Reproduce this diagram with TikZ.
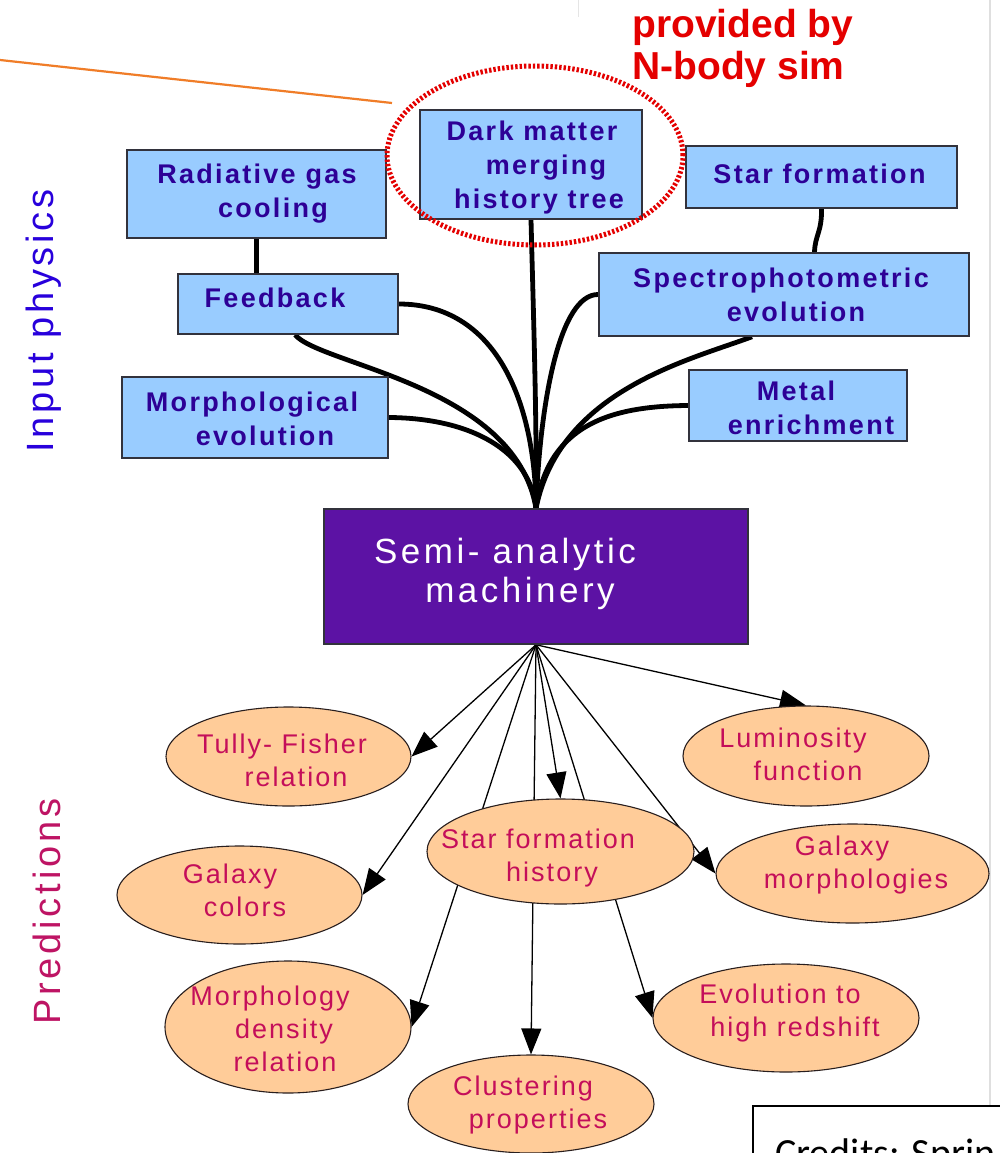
\documentclass[tikz,border=0pt]{standalone}
\usepackage{fontspec}
\setmainfont{Liberation Sans}
\newfontfamily\boxfont[LetterSpace=8.5]{Liberation Sans}
\newfontfamily\ellfont[LetterSpace=7.5]{Liberation Sans}
\newfontfamily\semifont[LetterSpace=10]{Liberation Sans}
\newfontfamily\sidefont[LetterSpace=10]{Liberation Sans}
\newfontfamily\credfont{Carlito}
\usetikzlibrary{shapes.geometric,arrows.meta,calc}
\pgfdeclarelayer{back}
\pgfsetlayers{back,main}

\definecolor{boxblue}{RGB}{153,204,255}
\definecolor{boxedge}{RGB}{50,50,60}
\definecolor{boxtext}{RGB}{45,0,150}
\definecolor{semipurple}{RGB}{92,18,164}
\definecolor{ellfill}{RGB}{255,204,153}
\definecolor{elledge}{RGB}{40,30,30}
\definecolor{elltext}{RGB}{196,14,90}
\definecolor{inputblue}{RGB}{40,0,220}
\definecolor{predcrimson}{RGB}{190,20,100}
\definecolor{simred}{RGB}{228,0,0}
\definecolor{leader}{RGB}{240,125,40}

\tikzset{
  inbox/.style={draw=boxedge, line width=1.5pt, fill=boxblue, inner sep=0pt},
  intext/.style={font=\boxfont\bfseries\fontsize{27pt}{34pt}\selectfont, text=boxtext,
    align=center, inner sep=0pt, anchor=base},
  outell/.style={ellipse, draw=elledge, line width=1.1pt, fill=ellfill, inner sep=0pt},
  outtext/.style={font=\ellfont\fontsize{27pt}{33pt}\selectfont, text=elltext,
    align=center, inner sep=0pt, anchor=base},
  feed/.style={line width=4.8pt, draw=black},
  pred/.style={line width=1.3pt, draw=black, -{Triangle[length=26pt,width=20pt]}},
}

\begin{document}
\begin{tikzpicture}[x=1pt,y=-1pt]
\useasboundingbox (0,0) rectangle (1000,1153);
\begin{pgfonlayer}{back}
\fill[white] (0,0) rectangle (1000,1153);
\end{pgfonlayer}
\clip (0,0) rectangle (1000,1153);

% page rules
\draw[gray!25, line width=2.5pt] (990,0) -- (990,1105);
\draw[gray!20, line width=1pt] (578,0) -- (578,17);

% input physics boxes
\node[inbox, minimum width=259pt, minimum height=88pt]  (rad)  at (256.5,194) {};
\node[inbox, minimum width=220pt, minimum height=60pt]  (fb)   at (288,304) {};
\node[inbox, minimum width=266pt, minimum height=81pt]  (mo)   at (255,417.5) {};
\node[inbox, minimum width=222pt, minimum height=109pt] (dm)   at (531,164.5) {};
\node[inbox, minimum width=271pt, minimum height=62pt]  (sf)   at (821.5,177) {};
\node[inbox, minimum width=370pt, minimum height=83pt]  (sp)   at (784,294.5) {};
\node[inbox, minimum width=218pt, minimum height=71pt]  (me)   at (798,405.5) {};
\node[draw=boxedge, line width=1.5pt, fill=semipurple, inner sep=0pt,
      minimum width=424pt, minimum height=135pt] (semi) at (536,576.5) {};

% labels sit on the baseline of their last line
\node[intext] (rad-t) at (265,217) {Radiative gas\hspace*{16pt}\\\hspace*{16pt}cooling};
\node[intext] (fb-t)  at (275,307) {Feedback};
\node[intext] (mo-t)  at (258.5,445) {Morphological\hspace*{13pt}\\\hspace*{13pt}evolution};
\node[intext] (dm-t)  at (539,208) {Dark matter\hspace*{14pt}\\\hspace*{14pt}merging\\history tree};
\node[intext] (sf-t)  at (819.5,183) {Star formation};
\node[intext] (sp-t)  at (788.5,321) {Spectrophotometric\hspace*{15pt}\\\hspace*{15pt}evolution};
\node[intext] (me-t)  at (803.5,434) {Metal\hspace*{15pt}\\\hspace*{15pt}enrichment};
\node[font=\semifont\fontsize{35pt}{39pt}\selectfont, text=white, align=center,
      inner sep=0pt, anchor=base] (semi-t) at (512.5,602)
      {Semi- analytic\hspace*{15pt}\\\hspace*{15pt}machinery};

% halo around the merger tree box
\node[ellipse, draw=simred, line width=5pt, dash pattern=on 2.4pt off 2pt,
      minimum width=296pt, minimum height=179pt, inner sep=0pt] (halo) at (535,155.5) {};

% leader line
\coordinate (lead-a) at (0,60);
\coordinate (lead-b) at (392,103);
\draw[leader, line width=2.2pt] (lead-a) -- (lead-b);

\node[font=\bfseries\fontsize{39pt}{42pt}\selectfont, text=simred, align=left,
      inner sep=0pt, anchor=base west] (sim) at (632,80) {provided by\\N-body sim};

% physics feeding the machinery
\begin{pgfonlayer}{back}
\draw[feed] (rad.south) -- (rad.south |- fb.north);
\draw[feed] (sf.south) .. controls (822,232) and (815,235) .. ($(sf.south |- sp.north)+(-7,0)$);
\draw[feed] (fb.east) .. controls (495,304) and (535,400) .. (semi.north);
\draw[feed] ($(fb.south)+(7,0)$) .. controls (320,365) and (515,385) .. (semi.north);
\draw[feed] (mo.east) .. controls (470,418) and (530,450) .. (semi.north);
\draw[feed] (dm.south) .. controls (533,300) and (537,420) .. (semi.north);
\draw[feed] (sp.west) .. controls (560,294) and (540,400) .. (semi.north);
\draw[feed] ($(sp.south)+(-32,0)$) .. controls (690,360) and (560,390) .. (semi.north);
\draw[feed] (me.west) .. controls (610,406) and (548,425) .. (semi.north);
\end{pgfonlayer}

% predictions
\node[outell, minimum width=245pt, minimum height=99pt]  (tf)  at (288.5,756.5) {};
\node[outell, minimum width=245pt, minimum height=98pt]  (gc)  at (239.5,895) {};
\node[outell, minimum width=267pt, minimum height=105pt] (sfh) at (560.5,851.5) {};
\node[outell, minimum width=246pt, minimum height=100pt] (lf)  at (806,756) {};
\node[outell, minimum width=273pt, minimum height=99pt]  (gm)  at (852.5,873.5) {};
\node[outell, minimum width=246pt, minimum height=132pt] (md)  at (288,1027) {};
\node[outell, minimum width=246pt, minimum height=98pt]  (cl)  at (531,1104) {};
\node[outell, minimum width=266pt, minimum height=108pt] (ev)  at (786,1018) {};

\node[outtext] (tf-t)  at (289,786)   {Tully- Fisher\hspace*{14pt}\\\hspace*{14pt}relation};
\node[outtext] (gc-t)  at (237.5,916) {Galaxy\hspace*{15pt}\\\hspace*{15pt}colors};
\node[outtext] (sfh-t) at (545,881)   {Star formation\hspace*{14pt}\\\hspace*{14pt}history};
\node[outtext] (lf-t)  at (800.5,780) {Luminosity\hspace*{15pt}\\\hspace*{15pt}function};
\node[outtext] (gm-t)  at (849,888)   {Galaxy\hspace*{14pt}\\\hspace*{14pt}morphologies};
\node[outtext] (md-t)  at (280,1071)  {Morphology\hspace*{20pt}\\\hspace*{8pt}density\\\hspace*{10pt}relation};
\node[outtext] (cl-t)  at (530.5,1128) {Clustering\hspace*{15pt}\\\hspace*{15pt}properties};
\node[outtext] (ev-t)  at (787.5,1036) {Evolution to\hspace*{15pt}\\\hspace*{15pt}high redshift};

\begin{pgfonlayer}{back}
\draw[pred] (semi.south) -- (tf.east);
\draw[pred] (semi.south) -- (gc.east);
\draw[pred] (semi.south) -- (md.east);
\draw[pred] (semi.south) -- (cl.north);
\draw[pred] (semi.south) -- (sfh.north);
\draw[pred] (semi.south) -- (ev.west);
\draw[pred] (semi.south) -- (gm.west);
\draw[pred] (semi.south) -- (lf.north);
\end{pgfonlayer}

% side captions
\node[font=\sidefont\fontsize{38pt}{40pt}\selectfont, text=inputblue, rotate=90,
      inner sep=0pt, anchor=base west] (inp) at (53,453) {Input physics};
\node[font=\sidefont\fontsize{38pt}{40pt}\selectfont, text=predcrimson, rotate=90,
      inner sep=0pt, anchor=base west] (prd) at (60,1025) {Predictions};

% credits panel
\node[draw=black, line width=2pt, fill=white, minimum width=300pt, minimum height=120pt,
      inner sep=0pt, anchor=north west] (cred) at (752,1105) {};
\node[font=\credfont\fontsize{40pt}{44pt}\selectfont, inner sep=0pt, anchor=base west]
      (cred-t) at (775,1166) {Credits: Sprin};
\end{tikzpicture}
\end{document}
